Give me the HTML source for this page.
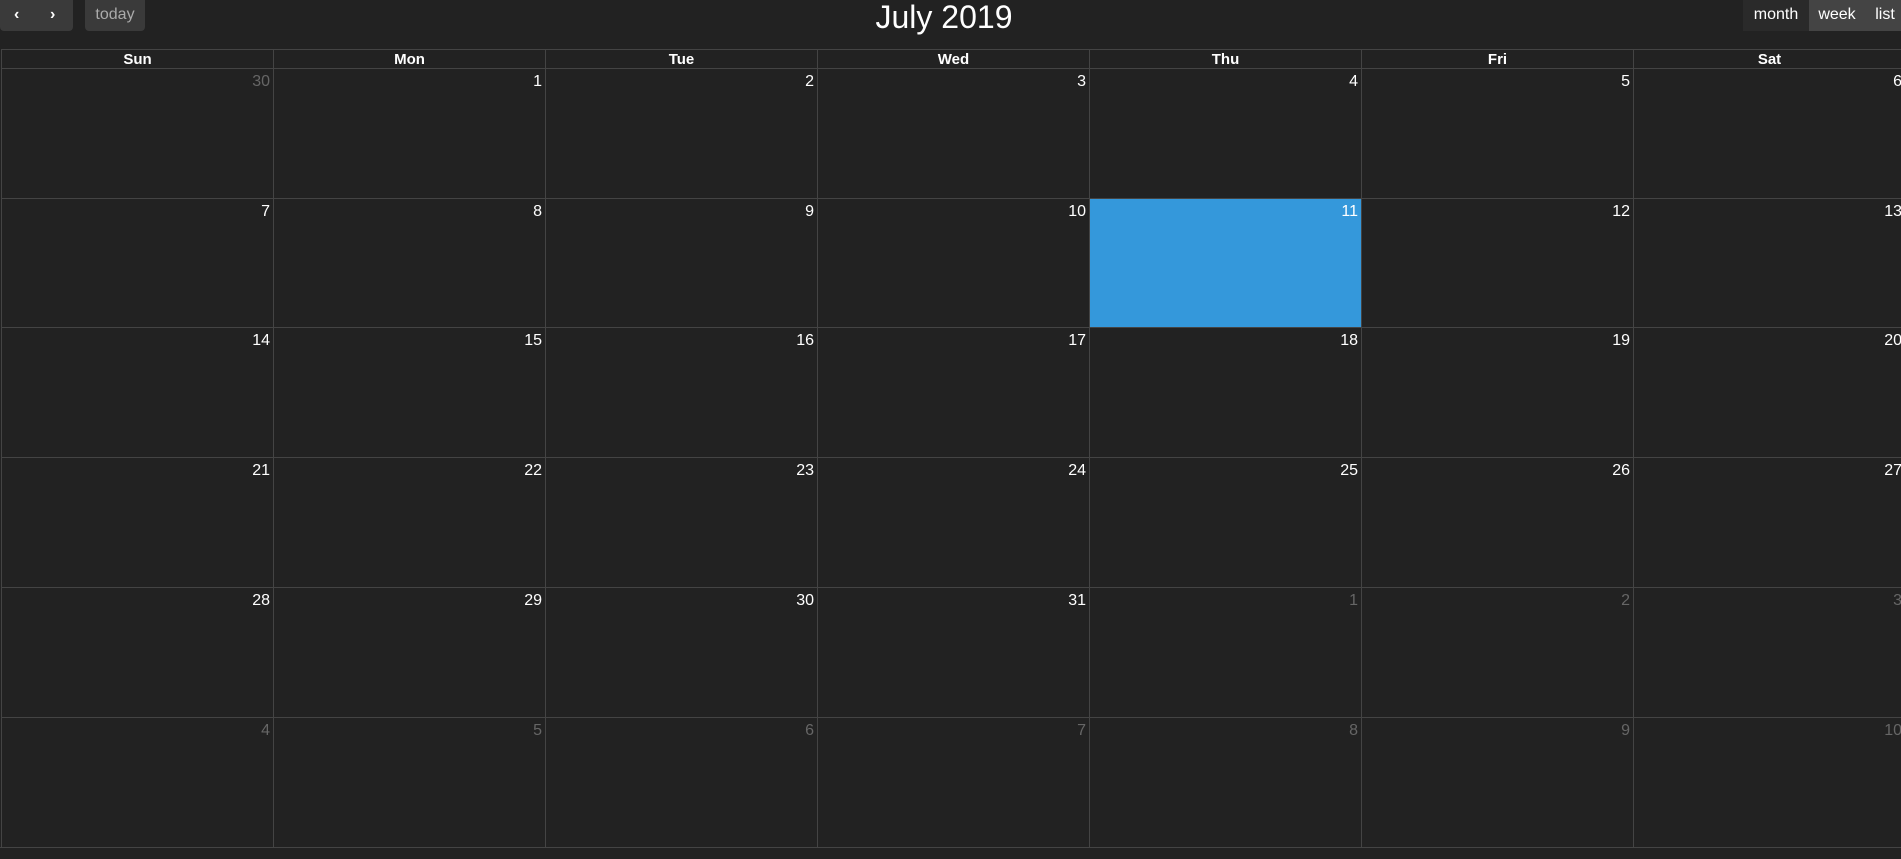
<!DOCTYPE html>
<html><head><meta charset="utf-8"><style>
body{margin:0;width:1901px;height:859px;background:#222;overflow:hidden;font-family:"Liberation Sans",sans-serif;color:#fff;position:relative}
.btn{position:absolute;top:0;height:31px;border-radius:0 0 4px 4px;font-size:16px;line-height:30px;text-align:center}
#grid{position:absolute;left:1px;top:49px}
.hd,.cell{position:absolute;box-sizing:border-box;border-left:1px solid #444;border-top:1px solid #444}
.hd{height:20px;font-weight:bold;font-size:15px;text-align:center;line-height:19px}
.cell{height:130px}
.num{position:absolute;right:3px;top:4px;font-size:16px}
.other .num{color:#666}
</style></head><body>
<div class="btn" style="left:0;width:73px;background:#3a3a3a"><span style="position:absolute;left:14px;font-weight:bold">‹</span><span style="position:absolute;left:50px;font-weight:bold">›</span></div>
<div class="btn" style="left:85px;width:60px;background:#3a3a3a;color:#aaa">today</div>
<div style="position:absolute;left:0;width:1888px;top:-1px;text-align:center;font-size:32px">July 2019</div>
<div class="btn" style="left:1743px;width:66px;background:#2a2a2a;border-radius:0">month</div>
<div class="btn" style="left:1809px;width:56px;background:#444;border-radius:0">week</div>
<div class="btn" style="left:1865px;width:40px;background:#444;border-radius:0">list</div>
<div id="grid"></div>
<div style="position:absolute;left:0;top:847px;width:1901px;border-top:1px solid #444"></div>
<script>
const days=['Sun','Mon','Tue','Wed','Thu','Fri','Sat'];
const dates=[30,1,2,3,4,5,6,7,8,9,10,11,12,13,14,15,16,17,18,19,20,21,22,23,24,25,26,27,28,29,30,31,1,2,3,4,5,6,7,8,9,10];
const g=document.getElementById('grid');
const W=272,H=129.7;
days.forEach((d,i)=>{const e=document.createElement('div');e.className='hd';


e.style.left=(i*W)+'px';e.style.top='0px';e.style.width=W+'px';e.textContent=d;g.appendChild(e);});
dates.forEach((n,k)=>{const r=Math.floor(k/7),c=k%7;const e=document.createElement('div');
const other=(k<1||k>31);e.className='cell'+(other?' other':'');


e.style.left=(c*W)+'px';e.style.top=(19+r*H)+'px';e.style.width=W+'px';
if(!other&&n===11){e.style.background='#3498db';}
e.innerHTML='<span class="num">'+n+'</span>';g.appendChild(e);});
</script>
</body></html>
